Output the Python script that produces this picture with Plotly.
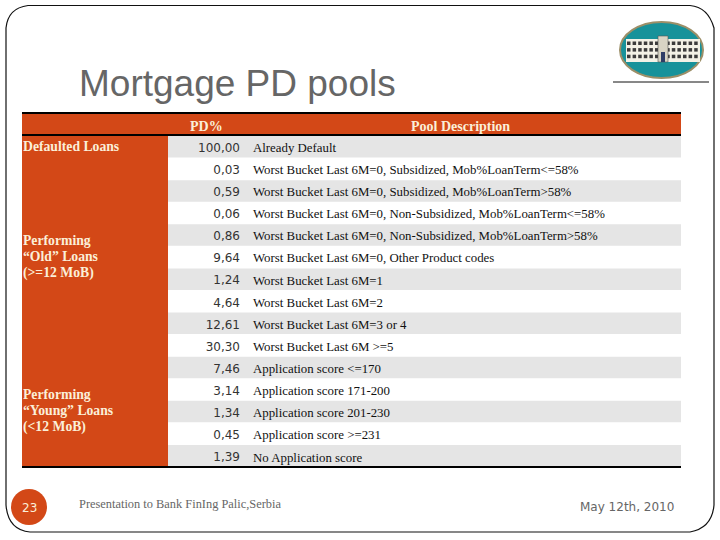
import plotly.graph_objects as go

TITLE = "Mortgage PD pools"
HEADERS = ["PD%", "Pool Description"]
PD_VALUES = [100.00, 0.03, 0.59, 0.06, 0.86, 9.64, 1.24, 4.64, 12.61, 30.30, 7.46, 3.14, 1.34, 0.45, 1.39]
DESCRIPTIONS = [
    "Already Default",
    "Worst Bucket Last 6M=0, Subsidized, Mob%LoanTerm<=58%",
    "Worst Bucket Last 6M=0, Subsidized, Mob%LoanTerm>58%",
    "Worst Bucket Last 6M=0, Non-Subsidized, Mob%LoanTerm<=58%",
    "Worst Bucket Last 6M=0, Non-Subsidized, Mob%LoanTerm>58%",
    "Worst Bucket Last 6M=0, Other Product codes",
    "Worst Bucket Last 6M=1",
    "Worst Bucket Last 6M=2",
    "Worst Bucket Last 6M=3 or 4",
    "Worst Bucket Last 6M >=5",
    "Application score <=170",
    "Application score 171-200",
    "Application score 201-230",
    "Application score >=231",
    "No Application score",
]
GROUP_DEFAULTED = ["Defaulted Loans"]
GROUP_OLD = ["Performing", "“Old” Loans", "(>=12 MoB)"]
GROUP_YOUNG = ["Performing", "“Young” Loans", "(<12 MoB)"]
FOOTER = "Presentation to Bank FinIng Palic,Serbia"
DATE = "May 12th, 2010"
PAGE = "23"

ORANGE = "#D34817"
GREY = "#E5E5E5"
SERIF = "Liberation Serif"
X0, X1, XC = 22, 681, 168
T0, T1 = 136, 467
RH = (T1 - T0) / len(PD_VALUES)

shapes = []
def rect(x0, y0, x1, y1, fill, line=None, w=0, kind="rect"):
    shapes.append(dict(type=kind, x0=x0, y0=y0, x1=x1, y1=y1, fillcolor=fill,
                       line=dict(color=line or fill, width=w), layer="below"))

# slide frame
shapes.append(dict(type="path", layer="below", line=dict(color="#111", width=1.2),
    path="M 28 5.5 L 690 5.5 Q 708 7 714 28 L 714 505 Q 712 528 690 532 L 30 532 Q 8 530 6 505 L 6 28 Q 8 8 28 5.5 Z"))
# header + left column
rect(X0, 112, X1, 136, ORANGE)
rect(X0, 136, XC, T1, ORANGE)
for i in range(len(PD_VALUES)):
    if i % 2 == 0:
        rect(XC, T0 + i * RH, X1, T0 + (i + 1) * RH - 0.5, GREY)
for y, w in ((113, 2), (135, 2), (467, 2)):
    shapes.append(dict(type="line", x0=X0, x1=X1, y0=y, y1=y, line=dict(color="#000", width=w)))
# logo
shapes.append(dict(type="line", x0=613, x1=709, y0=82, y1=82, line=dict(color="#111", width=1)))
rect(620, 22, 703, 78, "#17929A", "#9C8F68", 2, "circle")
rect(626, 39, 700, 62, "#F3F1E6")
for r in (0, 1, 2):
    for k in range(13):
        if k != 6:
            rect(627 + k * 5.6, 41.5 + r * 6.6, 630.5 + k * 5.6, 45 + r * 6.6, "#3B3B3B")
rect(658, 36, 668, 62, "#D8D4C4", "#555", 0.6)
rect(661, 52, 665, 62, "#2E3D66")
# page badge
rect(11, 489, 47, 525, ORANGE, kind="circle")

rows = list(range(len(PD_VALUES)))
ys = [148.6 + i * 22.13 for i in rows]
fig = go.Figure()
fig.add_trace(go.Scatter(x=[240] * len(rows), y=ys, mode="text",
    text=[f"{v:.2f}".replace(".", ",") for v in PD_VALUES], textposition="middle left",
    textfont=dict(family="DejaVu Sans", size=12, color="#333")))
fig.add_trace(go.Scatter(x=[253] * len(rows), y=ys, mode="text", text=DESCRIPTIONS,
    textposition="middle right", textfont=dict(family=SERIF, size=12.85, color="#111")))

def note(x, y, text, size, color, family=SERIF, anchor="left", bold=False):
    t = f"<b>{text}</b>" if bold else text
    return dict(x=x, y=y, xref="x", yref="y", text=t, showarrow=False, xanchor=anchor, yanchor="middle",
                align=anchor if anchor != "middle" else "center", font=dict(family=family, size=size, color=color))

annotations = [
    note(77, 83, TITLE, 37, "#666666", "Liberation Sans"),
    note(206, 126, HEADERS[0], 14, "#FBEFD9", anchor="center", bold=True),
    note(460, 126, HEADERS[1], 14, "#FBEFD9", anchor="center", bold=True),
    note(77, 504, FOOTER, 12.4, "#666666"),
    note(627, 507, DATE, 12, "#666666", "DejaVu Sans", anchor="center"),
    note(29, 508, PAGE, 12, "#FBEFD9", "DejaVu Sans", anchor="center"),
]
for lines, y0 in ((GROUP_DEFAULTED, 146), (GROUP_OLD, 240), (GROUP_YOUNG, 394)):
    for j, line in enumerate(lines):
        annotations.append(note(21, y0 + j * 16.6, line, 13.7, "#FBEFD9", bold=True))

fig.update_layout(width=720, height=540, margin=dict(l=0, r=0, t=0, b=0), showlegend=False,
    paper_bgcolor="white", plot_bgcolor="white", shapes=shapes, annotations=annotations,
    xaxis=dict(range=[0, 720], visible=False, fixedrange=True),
    yaxis=dict(range=[540, 0], visible=False, fixedrange=True))
fig.write_html("out.html", config={"displayModeBar": False},
               post_script="document.body.style.margin='0';document.documentElement.style.overflow='hidden';")
